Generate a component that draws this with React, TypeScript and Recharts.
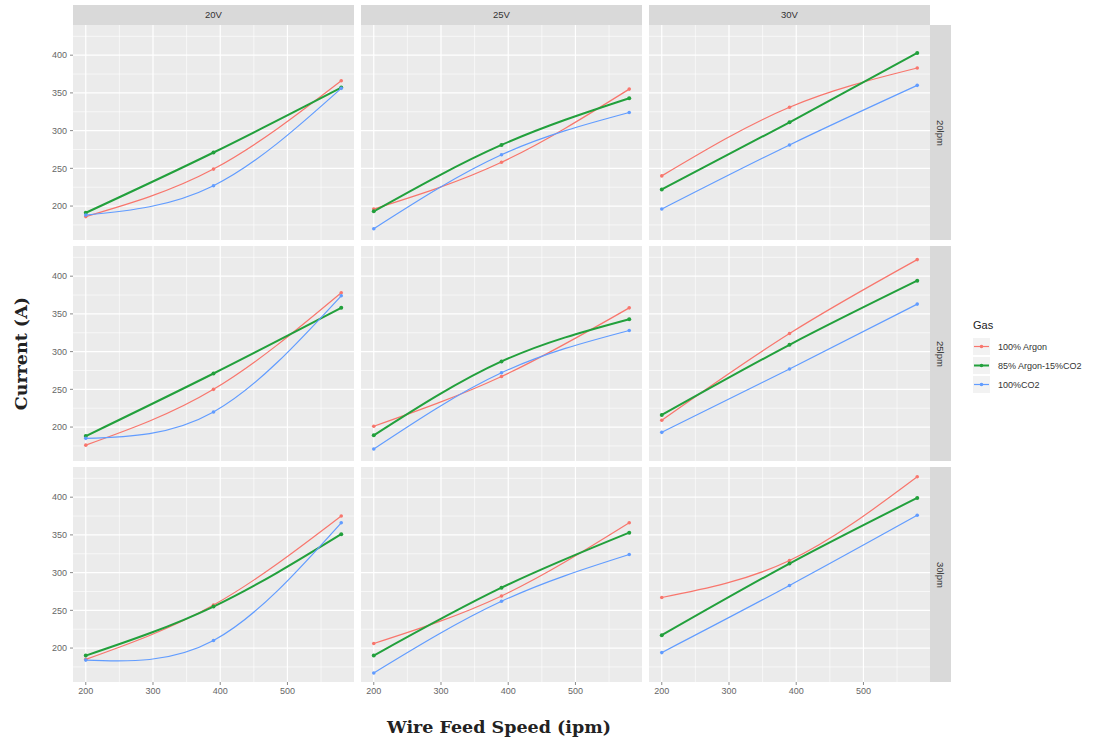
import { LineChart, Line, XAxis, YAxis, CartesianGrid, Legend } from "recharts";

// wire feed speeds (ipm) where current was measured
const wireFeed = [200, 390, 580];

const voltages = ["20V", "25V", "30V"];
const flowRates = ["20lpm", "25lpm", "30lpm"];
const gases = ["100% Argon", "85% Argon-15%CO2", "100%CO2"];
const gasColors = ["#F8766D", "#22A03C", "#619CFF"];

// current (A) per voltage column [20V, 25V, 30V], values at 200 / 390 / 580 ipm
const argon20lpm = [[186, 249, 366], [196, 258, 355], [240, 331, 383]];
const mix20lpm = [[191, 271, 357], [193, 281, 343], [222, 311, 403]];
const co220lpm = [[188, 227, 356], [170, 268, 324], [196, 281, 360]];

const argon25lpm = [[176, 250, 378], [201, 267, 358], [209, 324, 422]];
const mix25lpm = [[188, 271, 358], [189, 287, 343], [216, 309, 394]];
const co225lpm = [[185, 220, 374], [171, 272, 328], [193, 277, 363]];

const argon30lpm = [[185, 257, 375], [206, 269, 366], [267, 316, 427]];
const mix30lpm = [[190, 255, 351], [190, 280, 353], [217, 312, 399]];
const co230lpm = [[184, 210, 366], [167, 262, 324], [194, 283, 376]];

const xTicks = [200, 300, 400, 500];
const xMinor = [250, 350, 450, 550];
const yTicks = [200, 250, 300, 350, 400];
const yMinor = [175, 225, 275, 325, 375, 425];

const argonRows = [argon20lpm, argon25lpm, argon30lpm];
const mixRows = [mix20lpm, mix25lpm, mix30lpm];
const co2Rows = [co220lpm, co225lpm, co230lpm];

// layout
const colLeft = [73, 361, 649];
const rowTop = [25, 246, 467];
const PW = 281;
const PH = 215;
const Y_AXIS_W = 40;
const X_AXIS_H = 25;
const LEGEND_SPACE = 174;
const SANS = "'Liberation Sans', Arial, sans-serif";
const SERIF = "'DejaVu Serif', serif";

const tickStyle = { fontSize: 9, fill: "#666666", fontFamily: SANS };

function renderLegend(props: any) {
  const payload = [...(props.payload || [])].sort(
    (a: any, b: any) => gases.indexOf(a.value) - gases.indexOf(b.value)
  );
  return (
    <div style={{ fontFamily: SANS, color: "#222" }}>
      <div style={{ fontSize: 11, marginBottom: 6 }}>Gas</div>
      {payload.map((entry: any) => (
        <div key={entry.value} style={{ display: "flex", alignItems: "center", height: 19 }}>
          <svg width={17} height={17}>
            <rect width={17} height={17} fill="#F2F2F2" />
            <line x1={1} x2={16} y1={8.5} y2={8.5} stroke={entry.color} strokeWidth={entry.value === gases[1] ? 2 : 1.2} />
            <circle cx={8.5} cy={8.5} r={1.8} fill={entry.color} />
          </svg>
          <span style={{ marginLeft: 8, fontSize: 9, color: "#333" }}>{entry.value}</span>
        </div>
      ))}
    </div>
  );
}

function Panel({ row, col }: { row: number; col: number }) {
  const showY = col === 0;
  const showX = row === 2;
  const showLegend = row === 1 && col === 2;
  const yW = showY ? Y_AXIS_W : 0;
  const xH = showX ? X_AXIS_H : 0;
  const rightExtra = showLegend ? LEGEND_SPACE : 0;

  const data = wireFeed.map((w, i) => ({
    wfs: w,
    argon: argonRows[row][col][i],
    mix: mixRows[row][col][i],
    co2: co2Rows[row][col][i],
  }));

  return (
    <div style={{ position: "absolute", left: colLeft[col] - yW, top: rowTop[row] }}>
      <LineChart
        width={PW + yW + rightExtra}
        height={PH + xH}
        data={data}
        margin={{ top: 0, right: rightExtra, bottom: 0, left: 0 }}
      >
        <CartesianGrid
          fill="#EBEBEB"
          stroke="#FFFFFF"
          strokeWidth={0.6}
          horizontalValues={yMinor}
          verticalValues={xMinor}
        />
        <CartesianGrid
          stroke="#FFFFFF"
          strokeWidth={1.2}
          horizontalValues={yTicks}
          verticalValues={xTicks}
        />
        <XAxis
          type="number"
          dataKey="wfs"
          domain={[181, 599]}
          ticks={xTicks}
          hide={!showX}
          height={X_AXIS_H}
          axisLine={false}
          tickSize={3}
          tickLine={{ stroke: "#8A8A8A" }}
          tick={tickStyle}
          tickMargin={3}
        />
        <YAxis
          type="number"
          domain={[155, 440]}
          ticks={yTicks}
          hide={!showY}
          width={Y_AXIS_W}
          axisLine={false}
          tickSize={3}
          tickLine={{ stroke: "#8A8A8A" }}
          tick={tickStyle}
          tickMargin={3}
          allowDataOverflow
        />
        <Line type="natural" dataKey="argon" name={gases[0]} stroke={gasColors[0]} strokeWidth={1.2}
          dot={{ r: 1.8, fill: gasColors[0], stroke: gasColors[0], strokeWidth: 0 }} isAnimationActive={false} />
        <Line type="natural" dataKey="mix" name={gases[1]} stroke={gasColors[1]} strokeWidth={2}
          dot={{ r: 2, fill: gasColors[1], stroke: gasColors[1], strokeWidth: 0 }} isAnimationActive={false} />
        <Line type="natural" dataKey="co2" name={gases[2]} stroke={gasColors[2]} strokeWidth={1.2}
          dot={{ r: 1.8, fill: gasColors[2], stroke: gasColors[2], strokeWidth: 0 }} isAnimationActive={false} />
        {showLegend && (
          <Legend
            layout="vertical"
            align="center"
            verticalAlign="middle"
            content={renderLegend}
            wrapperStyle={{ left: 324, top: 73, width: 140, height: 90 }}
          />
        )}
      </LineChart>
    </div>
  );
}

export default function App() {
  const cells: { row: number; col: number }[] = [];
  flowRates.forEach((_, r) => voltages.forEach((_, c) => cells.push({ row: r, col: c })));

  return (
    <div style={{ position: "absolute", left: 0, top: 0, width: 1104, height: 742, background: "#fff", fontFamily: SANS }}>
      {cells.map((c) => (
        <Panel key={`${c.row}-${c.col}`} row={c.row} col={c.col} />
      ))}

      {/* column strips */}
      {voltages.map((v, i) => (
        <div key={v} style={{
          position: "absolute", left: colLeft[i], top: 5, width: PW, height: 20,
          background: "#D9D9D9", color: "#333", fontSize: 9.5, lineHeight: "20px", textAlign: "center",
        }}>{v}</div>
      ))}

      {/* row strips */}
      {flowRates.map((f, i) => (
        <div key={f} style={{
          position: "absolute", left: colLeft[2] + PW, top: rowTop[i], width: 21, height: PH,
          background: "#D9D9D9", color: "#333", fontSize: 9.5, display: "flex",
          alignItems: "center", justifyContent: "center",
        }}>
          <span style={{ writingMode: "vertical-rl" }}>{f}</span>
        </div>
      ))}

      {/* axis titles */}
      <div style={{
        position: "absolute", left: 499 - 150, top: 717, width: 300, textAlign: "center",
        fontFamily: SERIF, fontWeight: "bold", fontSize: 17.5, color: "#222",
      }}>Wire Feed Speed (ipm)</div>
      <div style={{
        position: "absolute", left: 10, top: 354 - 70, height: 140, width: 22,
        display: "flex", alignItems: "center", justifyContent: "center",
      }}>
        <span style={{
          writingMode: "vertical-rl", transform: "rotate(180deg)",
          fontFamily: SERIF, fontWeight: "bold", fontSize: 17.5, color: "#222", whiteSpace: "nowrap",
        }}>Current (A)</span>
      </div>
    </div>
  );
}
